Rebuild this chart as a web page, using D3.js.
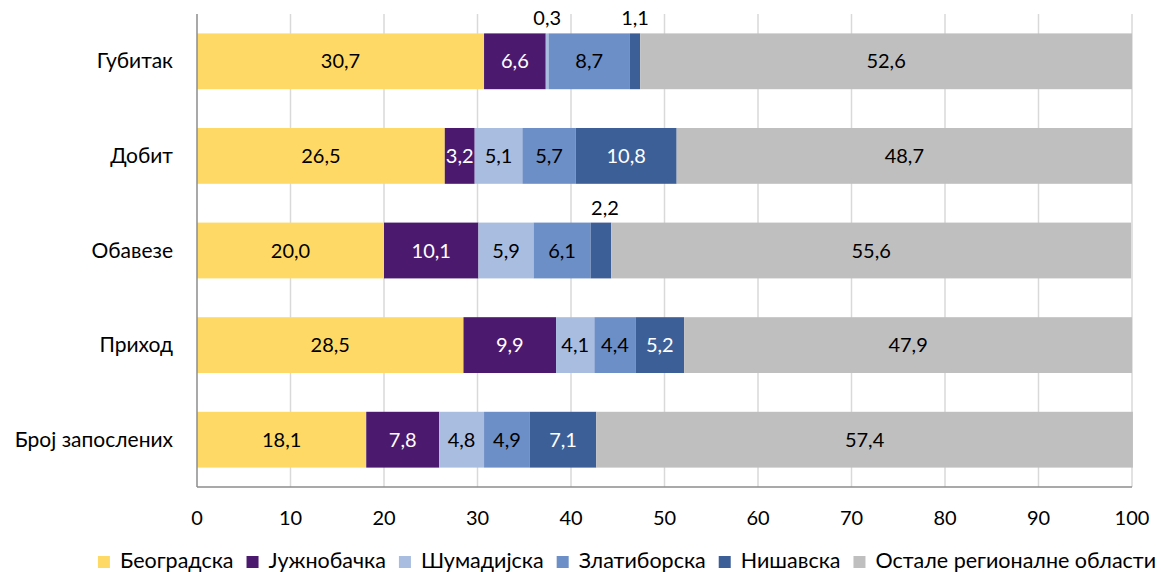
<!DOCTYPE html>
<html>
<head>
<meta charset="utf-8">
<script src="https://cdn.jsdelivr.net/npm/d3@7"></script>
<style>
  body { margin: 0; background: #fff; }
  text { font-family: Lato, "Open Sans", sans-serif; }
</style>
</head>
<body>
<svg width="1161" height="572"></svg>
<script>
// categories (top to bottom) and series
var categories = ["Губитак", "Добит", "Обавезе", "Приход", "Број запослених"];
var seriesNames = ["Београдска", "Јужнобачка", "Шумадијска", "Златиборска", "Нишавска", "Остале регионалне области"];
var beogradska  = [30.7, 26.5, 20.0, 28.5, 18.1];
var juznobacka  = [6.6, 3.2, 10.1, 9.9, 7.8];
var sumadijska  = [0.3, 5.1, 5.9, 4.1, 4.8];
var zlatiborska = [8.7, 5.7, 6.1, 4.4, 4.9];
var nisavska    = [1.1, 10.8, 2.2, 5.2, 7.1];
var ostale      = [52.6, 48.7, 55.6, 47.9, 57.4];
var xTicks = [0, 10, 20, 30, 40, 50, 60, 70, 80, 90, 100];

var colors = ["#FFD966", "#4B1A6E", "#A9BDE0", "#6D8FC7", "#3D5F98", "#BFBFBF"];
var labelColors = ["#000", "#fff", "#000", "#000", "#fff", "#000"];

var rows = categories.map(function(c, i) {
  return { cat: c, "0": beogradska[i], "1": juznobacka[i], "2": sumadijska[i],
           "3": zlatiborska[i], "4": nisavska[i], "5": ostale[i] };
});
var keys = ["0", "1", "2", "3", "4", "5"];
var stacked = d3.stack().keys(keys)(rows);

var svg = d3.select("svg");
var pLeft = 197, pRight = 1132, pTop = 14, pBottom = 487;

var x = d3.scaleLinear().domain([0, 100]).range([pLeft, pRight]);
var y = d3.scaleBand().domain(categories).range([pTop, pBottom]).paddingInner(0.41).paddingOuter(0.205);

// gridlines
svg.append("g").selectAll("line").data(xTicks.slice(1)).enter().append("line")
  .attr("x1", function(d) { return x(d); }).attr("x2", function(d) { return x(d); })
  .attr("y1", pTop).attr("y2", pBottom)
  .attr("stroke", "#D9D9D9").attr("stroke-width", 1.5);

// bars
var layer = svg.append("g").selectAll("g").data(stacked).enter().append("g")
  .attr("fill", function(d, i) { return colors[i]; });
layer.selectAll("rect").data(function(d) { return d; }).enter().append("rect")
  .attr("x", function(d) { return x(d[0]); })
  .attr("width", function(d) { return x(d[1]) - x(d[0]); })
  .attr("y", function(d) { return y(d.data.cat); })
  .attr("height", y.bandwidth());

// value labels (small segments get their label above the bar)
var fmt = function(v) { return v.toFixed(1).replace(".", ","); };
stacked.forEach(function(s, si) {
  s.forEach(function(d) {
    var v = d[1] - d[0];
    var small = v < 3;
    svg.append("text")
      .attr("x", x((d[0] + d[1]) / 2) + (small && si === 4 && v > 2 ? 4 : 0))
      .attr("y", small ? y(d.data.cat) - 8 : y(d.data.cat) + y.bandwidth() / 2 + 7)
      .attr("text-anchor", "middle")
      .attr("font-size", 20)
      .attr("fill", small ? "#000" : labelColors[si])
      .text(fmt(+d.data[s.key]));
  });
});

// axes lines
svg.append("line").attr("x1", pLeft).attr("x2", pLeft).attr("y1", pTop).attr("y2", pBottom)
  .attr("stroke", "#8C8C8C").attr("stroke-width", 1.5);
svg.append("line").attr("x1", pLeft).attr("x2", pRight).attr("y1", pBottom).attr("y2", pBottom)
  .attr("stroke", "#8C8C8C").attr("stroke-width", 1.5);

// x tick labels
svg.append("g").selectAll("text").data(xTicks).enter().append("text")
  .attr("x", function(d) { return x(d); }).attr("y", 525)
  .attr("text-anchor", "middle").attr("font-size", 20).attr("fill", "#000")
  .text(function(d) { return d; });

// category labels
svg.append("g").selectAll("text").data(categories).enter().append("text")
  .attr("x", 173).attr("y", function(d) { return y(d) + y.bandwidth() / 2 + 7; })
  .attr("text-anchor", "end").attr("font-size", 21).attr("fill", "#000")
  .text(function(d) { return d; });

// legend
var lg = svg.append("g");
var pos = 0;
seriesNames.forEach(function(n, i) {
  var g = lg.append("g");
  g.append("rect").attr("width", 12).attr("height", 12).attr("y", -12).attr("fill", colors[i]);
  var t = g.append("text").attr("x", 22).attr("font-size", 21.5).attr("fill", "#000").text(n);
  var w = 22 + t.node().getComputedTextLength();
  g.attr("transform", "translate(" + pos + ",568)");
  pos += w + 13;
});
var total = pos - 13;
lg.attr("transform", "translate(" + (627 - total / 2) + ",0)");
</script>
</body>
</html>
